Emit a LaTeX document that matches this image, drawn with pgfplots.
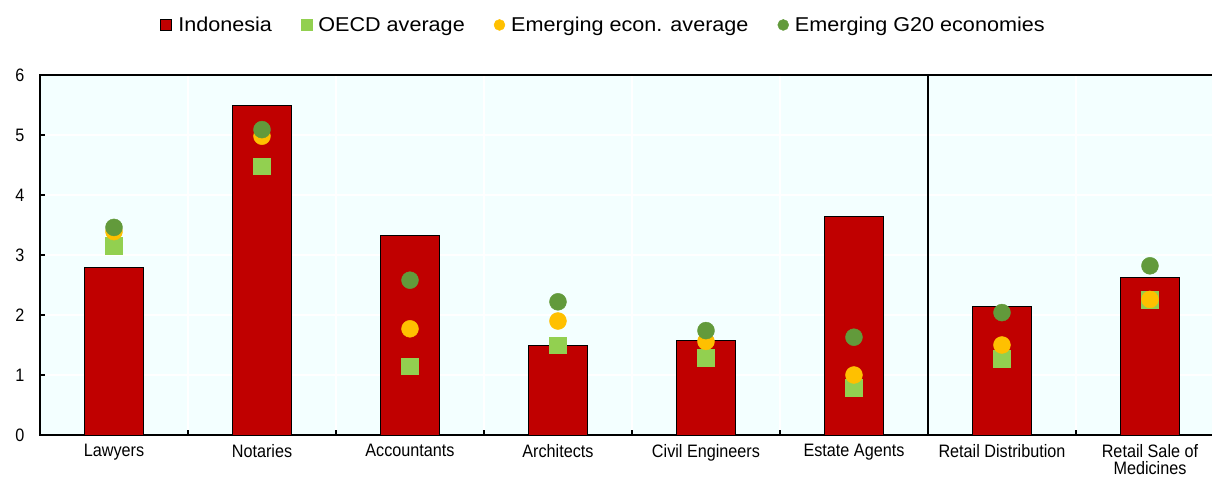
\documentclass[border=0pt]{standalone}
\usepackage{fontspec}
\setmainfont{Liberation Sans}
\newfontfamily\tickff[FakeStretch=0.9]{Liberation Sans}
\newfontfamily\legff[FakeStretch=1.08]{Liberation Sans}
\usepackage{pgfplots}
\pgfplotsset{compat=1.18}
\definecolor{barred}{RGB}{192,0,0}
\definecolor{oecdgreen}{RGB}{146,208,80}
\definecolor{emorange}{RGB}{255,192,0}
\definecolor{gdark}{RGB}{98,154,59}
\definecolor{bgcyan}{RGB}{243,255,255}
\newcommand{\tickfont}{\tickff\fontsize{18}{17}\selectfont}
\newcommand{\legfont}{\legff\fontsize{20}{24}\selectfont}
\begin{document}
\begin{tikzpicture}
\begin{axis}[
  at={(40pt,44pt)}, anchor=south west,
  scale only axis, width=1184pt, height=360pt,
  xmin=-0.5, xmax=7.5, ymin=0, ymax=6,
  axis background/.style={fill=bgcyan},
  axis line style={black, line width=1.5pt},
  tick align=inside, tick pos=left,
  major tick length=5pt,
  tick style={black, line width=1.2pt},
  xtick={0.5,1.5,2.5,3.5,4.5,5.5,6.5}, xticklabels={},
  extra x ticks={0,1,2,3,4,5,6,7},
  extra x tick labels={Lawyers,Notaries,Accountants,Architects,Civil Engineers,Estate Agents,Retail Distribution,{Retail Sale of\\Medicines}},
  extra x tick style={major tick length=0pt, grid=none},
  ytick={0,1,2,3,4,5,6},
  xmajorgrids, ymajorgrids,
  grid style={white, line width=1.5pt},
  /pgf/number format/assume math mode=true,
  ticklabel style={font=\tickfont},
  xticklabel style={align=center, yshift=-6pt},
  yticklabel style={xshift=-12pt},
  legend style={at={(0.476,1.139)}, anchor=center, draw=none, fill=none,
    legend columns=4, font=\legfont,
    /tikz/every odd column/.append style={column sep=4pt},
    /tikz/every even column/.append style={column sep=27pt}},
  legend cell align=left,
]
\addplot[ybar, bar width=59pt, bar shift=0pt, fill=barred, draw=black, line width=1pt,
  legend image code/.code={\draw[fill=barred, draw=black, line width=0.8pt] (0pt,-5.5pt) rectangle (11pt,5.5pt);}]
  coordinates {(0,2.80) (1,5.49) (2,3.32) (3,1.50) (4,1.58) (5,3.65) (6,2.14) (7,2.62)};
\addlegendentry{Indonesia}
\addplot[only marks, mark=square*, mark size=8.3pt, color=oecdgreen, mark options={draw=none},
  legend image code/.code={\fill[oecdgreen] (0pt,-5.5pt) rectangle (11pt,5.5pt);}]
  coordinates {(0,3.16) (1,4.48) (2,1.15) (3,1.50) (4,1.29) (5,0.79) (6,1.27) (7,2.26)};
\addlegendentry{OECD average}
\addplot[only marks, mark=*, mark size=8.5pt, color=emorange, mark options={draw=none},
  legend image code/.code={\fill[emorange] (5.5pt,0pt) ellipse (5.5pt and 5.5pt);}]
  coordinates {(0,3.39) (1,4.98) (2,1.77) (3,1.90) (4,1.56) (5,1.00) (6,1.50) (7,2.26)};
\addlegendentry{Emerging econ. average}
\addplot[only marks, mark=*, mark size=8.5pt, color=gdark, mark options={draw=none},
  legend image code/.code={\fill[gdark] (5.5pt,0pt) ellipse (5.5pt and 5.5pt);}]
  coordinates {(0,3.46) (1,5.09) (2,2.58) (3,2.22) (4,1.74) (5,1.63) (6,2.04) (7,2.82)};
\addlegendentry{Emerging G20 economies}
\draw[black, line width=1.5pt] (axis cs:5.5,0) -- (axis cs:5.5,6);
\end{axis}
\pgfresetboundingbox
\useasboundingbox (0pt,0pt) rectangle (1212pt,479pt);
\end{tikzpicture}
\end{document}
